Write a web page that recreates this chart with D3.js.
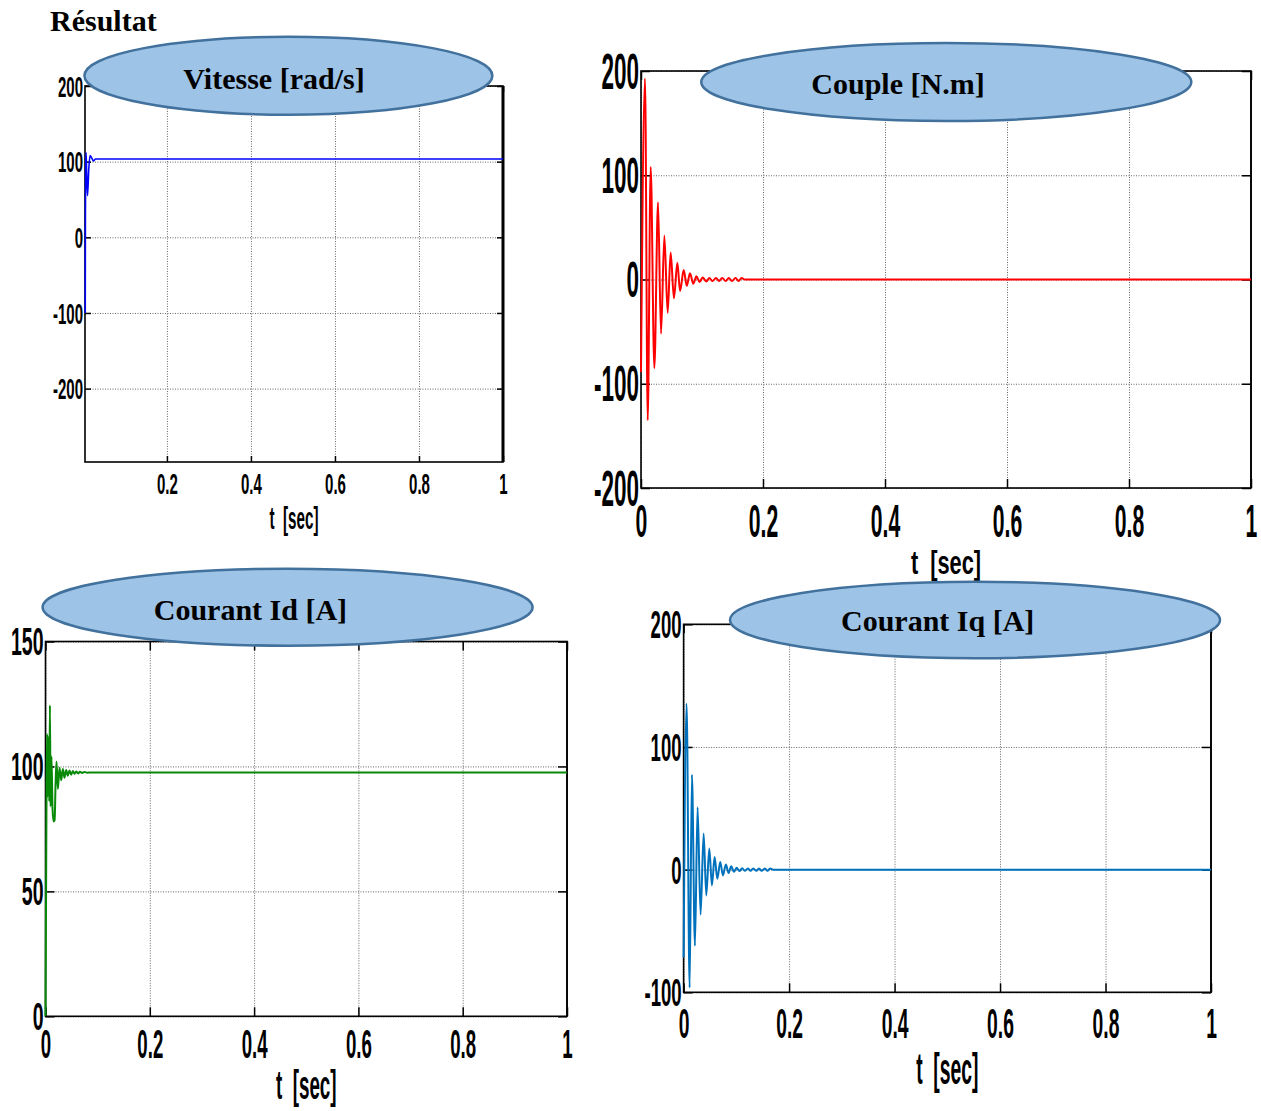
<!DOCTYPE html>
<html>
<head>
<meta charset="utf-8">
<script src="https://cdn.jsdelivr.net/npm/d3@7"></script>
<style>
  body { margin: 0; background: #fff; }
  svg { display: block; }
  .grid line { stroke: #666; stroke-width: 1; stroke-dasharray: 1,1.5; }
  .grid .domain { display: none; }
  .tick-in line { stroke: #000; stroke-width: 1.5; }
  .tick-in .domain { display: none; }
  .tick-in text { display: none; }
</style>
</head>
<body>
<script>
// ---- data ----
// Vitesse [rad/s]
const velT = [0.0056, 0.006, 0.0066, 0.0075, 0.009, 0.011, 0.014, 0.017, 0.021, 0.025, 0.03, 1];
const velV = [-100, 30, 90, 112, 85, 55, 90, 108, 105, 101, 103.5, 103.5];

// Couple [N.m]
const torqueT = [0, 0.0066, 0.011, 0.0159, 0.0219, 0.0279, 0.0328, 0.0383, 0.0437, 0.0486, 0.054,
  0.0596, 0.064, 0.070, 0.075, 0.0803, 0.0857, 0.091, 0.096, 0.101, 0.107, 0.112, 0.117, 0.123,
  0.128, 0.133, 0.139, 0.144, 0.149, 0.155, 0.16, 0.165, 0.17, 1];
const torqueV = [-89, 192.7, -135, 108, -85, 74, -52, 42, -32, 26, -18,
  16, -11, 9, -6, 6, -4, 3, -2.5, 2, -1.8, 1.5, -1.5, 1.5,
  -1.5, 1.5, -1.5, 1.5, -1.5, 1.5, -1.5, 1.5, 0, 0];

// Courant Id [A]
const idT = [0, 0.001, 0.002, 0.003, 0.0045, 0.006, 0.0072, 0.0085, 0.0098, 0.0115, 0.0135, 0.0155,
  0.0175, 0.0192, 0.021, 0.0238, 0.0268, 0.03, 0.0332, 0.0364, 0.0396, 0.0428, 0.046, 0.0492,
  0.0525, 0.0557, 0.059, 0.0625, 0.066, 0.07, 0.075, 0.08, 0.087, 1];
const idV = [0, 45, 90, 113, 88, 112, 86, 124.5, 84, 104, 83, 78,
  78.5, 92, 102, 91, 99.5, 94.5, 99, 95.5, 98.6, 96.3, 98.4, 96.7,
  98.2, 97, 98, 97.2, 97.9, 97.4, 97.8, 97.5, 97.6, 97.6];

// Courant Iq [A]
const iqT = [0, 0.0057, 0.0114, 0.0158, 0.0215, 0.0265, 0.0322, 0.038, 0.043, 0.0487, 0.0537,
  0.0588, 0.0639, 0.0695, 0.0745, 0.0802, 0.0853, 0.0903, 0.0955, 0.1005, 0.106, 0.111, 0.116,
  0.122, 0.127, 0.132, 0.138, 0.143, 0.148, 0.154, 0.159, 0.164, 0.17, 1];
const iqV = [-71.6, 135.5, -96.2, 77.3, -62, 50.8, -36.6, 29.5, -21, 17.2, -12.9,
  10.3, -7.4, 6.2, -4.7, 4.1, -2.7, 2.7, -1.8, 1.5, -1.2, 1.2, -1,
  1, -1, 1, -1, 1, -1, 1, -1, 1, 0, 0];

// tick values
const timeTicks = [0, 0.2, 0.4, 0.6, 0.8, 1];
const timeTicksNoZero = [0.2, 0.4, 0.6, 0.8, 1];
const velTicks = [-200, -100, 0, 100, 200];
const torqueTicks = [-200, -100, 0, 100, 200];
const idTicks = [0, 50, 100, 150];
const iqTicks = [-100, 0, 100, 200];

const pageTitle = "Résultat";
const xLabel = "t  [sec]";

// ---- layout ----
const panels = [
  { name: "vit", t: velT, v: velV, color: "#0000ff", lw: 1.6, title: "Vitesse [rad/s]",
    x0: 85, x1: 503, y0: 86, y1: 462, xDom: [0.005, 1], yDom: [-297, 200],
    xTicks: timeTicksNoZero, yTicks: velTicks,
    yFs: 30, ySx: 0.5, xFs: 30, xSx: 0.5, xGap: 11, tickLen: 6,
    lblFs: 31, lblSx: 0.49, lblY: 529, rightW: 3,
    ell: { cx: 288.4, cy: 75.7, rx: 204, ry: 39 }, titleX: 274, titleY: 89 },
  { name: "cpl", t: torqueT, v: torqueV, color: "#ff0000", lw: 2, title: "Couple [N.m]",
    x0: 641, x1: 1251, y0: 71, y1: 488, xDom: [0, 1], yDom: [-200, 200],
    xTicks: timeTicks, yTicks: torqueTicks,
    yFs: 50, ySx: 0.45, xFs: 46, xSx: 0.46, xGap: 16, tickLen: 9,
    lblFs: 34, lblSx: 0.64, lblY: 574, rightW: 1.6,
    ell: { cx: 946.3, cy: 82, rx: 245, ry: 39 }, titleX: 898, titleY: 94 },
  { name: "id", t: idT, v: idV, color: "#088a08", lw: 2, title: "Courant Id [A]",
    x0: 45.5, x1: 567, y0: 641.5, y1: 1016.3, xDom: [0, 1], yDom: [0, 150],
    xTicks: timeTicks, yTicks: idTicks,
    yFs: 39, ySx: 0.5, xFs: 41.5, xSx: 0.45, xGap: 12, tickLen: 9,
    lblFs: 40, lblSx: 0.47, lblY: 1099, rightW: 1.6,
    ell: { cx: 287.6, cy: 607.2, rx: 245, ry: 38.5 }, titleX: 250.4, titleY: 620 },
  { name: "iq", t: iqT, v: iqV, color: "#0072bd", lw: 2, title: "Courant Iq [A]",
    x0: 683.6, x1: 1211, y0: 624.3, y1: 992.3, xDom: [0, 1], yDom: [-100, 200],
    xTicks: timeTicks, yTicks: iqTicks,
    yFs: 39.5, ySx: 0.47, xFs: 42, xSx: 0.46, xGap: 16, tickLen: 9,
    lblFs: 45, lblSx: 0.43, lblY: 1084, rightW: 1.6,
    ell: { cx: 975, cy: 620, rx: 245, ry: 38.2 }, titleX: 937.7, titleY: 631 }
];

const sansBold = "'Liberation Sans', Arial, sans-serif";
const serif = "'Liberation Serif', 'Times New Roman', serif";

const svg = d3.select("body").append("svg")
  .attr("width", 1261).attr("height", 1111)
  .style("background", "#fff");

const defs = svg.append("defs");
const overlay = [];   // ellipses drawn last

panels.forEach(p => {
  const w = p.x1 - p.x0, h = p.y1 - p.y0;
  const x = d3.scaleLinear().domain(p.xDom).range([0, w]);
  const y = d3.scaleLinear().domain(p.yDom).range([h, 0]);
  const g = svg.append("g").attr("transform", `translate(${p.x0},${p.y0})`);

  defs.append("clipPath").attr("id", "clip-" + p.name)
    .append("rect").attr("x", -1.5).attr("width", w + 1.5).attr("height", h);

  // grid
  g.append("g").attr("class", "grid")
    .attr("transform", `translate(0,${h})`)
    .call(d3.axisBottom(x).tickValues(p.xTicks).tickSize(-h).tickFormat(""));
  g.append("g").attr("class", "grid")
    .call(d3.axisLeft(y).tickValues(p.yTicks).tickSize(-w).tickFormat(""));

  // box
  g.append("rect").attr("width", w).attr("height", h)
    .attr("fill", "none").attr("stroke", "#000").attr("stroke-width", 1.6);
  g.append("line").attr("x1", w).attr("x2", w).attr("y1", 0).attr("y2", h)
    .attr("stroke", "#000").attr("stroke-width", p.rightW);

  // inward ticks on all four sides
  g.append("g").attr("class", "tick-in").attr("transform", `translate(0,${h})`)
    .call(d3.axisBottom(x).tickValues(p.xTicks).tickSize(-p.tickLen));
  g.append("g").attr("class", "tick-in")
    .call(d3.axisTop(x).tickValues(p.xTicks).tickSize(-p.tickLen));
  g.append("g").attr("class", "tick-in")
    .call(d3.axisLeft(y).tickValues(p.yTicks).tickSize(-p.tickLen));
  g.append("g").attr("class", "tick-in").attr("transform", `translate(${w},0)`)
    .call(d3.axisRight(y).tickValues(p.yTicks).tickSize(-p.tickLen));

  // trace (drawn over the axes box, like the original)
  const data = p.t.map((t, i) => [t, p.v[i]]);
  const line = d3.line()
    .x(([t]) => x(t))
    .y(([, v]) => y(v))
    .curve(d3.curveMonotoneX);
  g.append("path")
    .datum(data)
    .attr("clip-path", `url(#clip-${p.name})`)
    .attr("fill", "none")
    .attr("stroke", p.color)
    .attr("stroke-width", p.lw)
    .attr("stroke-linejoin", "round")
    .attr("d", line);

  // tick labels (condensed bold)
  const fmt = d => String(d);
  const yl = g.append("g")
    .call(d3.axisLeft(y).tickValues(p.yTicks).tickSize(0).tickFormat(fmt));
  yl.select(".domain").remove();
  yl.selectAll("text")
    .attr("x", 0).attr("dy", "0.34em")
    .attr("transform", `translate(-2,0) scale(${p.ySx},1)`)
    .style("font-family", sansBold).style("font-weight", "bold")
    .style("font-size", p.yFs + "px").attr("fill", "#000");

  const xl = g.append("g").attr("transform", `translate(0,${h})`)
    .call(d3.axisBottom(x).tickValues(p.xTicks).tickSize(0).tickPadding(p.xGap).tickFormat(fmt));
  xl.select(".domain").remove();
  xl.selectAll("text")
    .attr("transform", `scale(${p.xSx},1)`)
    .style("font-family", sansBold).style("font-weight", "bold")
    .style("font-size", p.xFs + "px").attr("fill", "#000");

  // axis label
  const cx = p.x0 + w / 2;
  svg.append("text")
    .attr("transform", `translate(${cx},${p.lblY}) scale(${p.lblSx},1)`)
    .attr("text-anchor", "middle")
    .style("white-space", "pre")
    .style("font-family", sansBold).style("font-weight", "bold")
    .style("font-size", p.lblFs + "px")
    .text(xLabel);

  overlay.push(p);
});

// title ellipses on top
overlay.forEach(p => {
  svg.append("ellipse")
    .attr("cx", p.ell.cx).attr("cy", p.ell.cy)
    .attr("rx", p.ell.rx).attr("ry", p.ell.ry)
    .attr("fill", "#9dc3e6").attr("stroke", "#41719c").attr("stroke-width", 2.5);
  svg.append("text")
    .attr("x", p.titleX).attr("y", p.titleY)
    .attr("text-anchor", "middle")
    .style("font-family", serif).style("font-weight", "bold")
    .style("font-size", "30px")
    .text(p.title);
});

svg.append("text")
  .attr("x", 50).attr("y", 31)
  .style("font-family", serif).style("font-weight", "bold")
  .style("font-size", "30px")
  .text(pageTitle);
</script>
</body>
</html>
